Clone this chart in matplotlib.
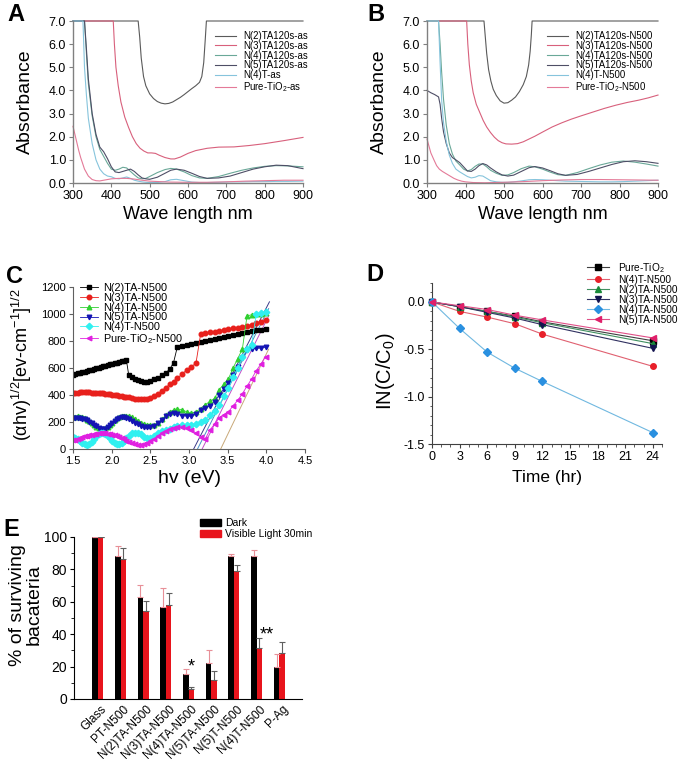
import matplotlib
matplotlib.use('Agg')
import matplotlib.pyplot as plt
from matplotlib.ticker import MultipleLocator, FormatStrFormatter
from matplotlib.patches import Patch
from matplotlib.transforms import ScaledTranslation

plt.rcParams['font.family'] = ['Liberation Sans', 'DejaVu Sans']
plt.rcParams['mathtext.fontset'] = 'custom'
plt.rcParams['mathtext.rm'] = 'Liberation Sans'
plt.rcParams['mathtext.it'] = 'Liberation Sans:italic'
plt.rcParams['mathtext.bf'] = 'Liberation Sans:bold'

# ---------------- Panel A data ----------------
A_N2_x = [300, 470, 474, 478, 484, 490, 500, 510, 520, 530, 540, 550, 560, 570, 580, 590, 600, 610, 620, 630, 636, 641, 645, 648, 900]
A_N2_y = [7.0, 7.0, 6.3, 5.4, 4.6, 4.2, 3.85, 3.65, 3.52, 3.45, 3.42, 3.44, 3.5, 3.6, 3.7, 3.82, 3.95, 4.08, 4.2, 4.35, 4.6, 5.2, 6.2, 7.0, 7.0]
A_N3_x = [300, 405, 408, 412, 418, 425, 435, 445, 455, 465, 475, 485, 495, 505, 515, 525, 540, 555, 565, 580, 600, 620, 650, 680, 720, 760, 800, 850, 900]
A_N3_y = [7.0, 7.0, 6.0, 5.0, 4.2, 3.5, 2.85, 2.4, 2.0, 1.7, 1.5, 1.38, 1.3, 1.3, 1.28, 1.2, 1.1, 1.04, 1.04, 1.12, 1.28, 1.4, 1.5, 1.55, 1.56, 1.62, 1.7, 1.83, 1.97]
A_LOW_x = [300, 326, 330, 335, 340, 350, 360, 370, 380, 390, 400, 410, 420, 430, 440, 450, 460, 470, 480, 490,
           500, 520, 540, 555, 570, 590, 610, 630, 650, 680, 710, 740, 770, 800, 830, 860, 900]
A_N4_y = [7.0, 7.0, 7.0, 5.6, 4.3, 2.9, 2.0, 1.45, 1.15, 0.85, 0.6, 0.55, 0.6, 0.68, 0.65, 0.5, 0.35, 0.22, 0.18, 0.2,
          0.28, 0.45, 0.58, 0.63, 0.6, 0.48, 0.32, 0.22, 0.2, 0.28, 0.42, 0.55, 0.65, 0.72, 0.75, 0.74, 0.7]
A_N5_y = [7.0, 7.0, 7.0, 5.8, 4.5, 3.0, 2.1, 1.55, 1.35, 1.05, 0.7, 0.48, 0.45, 0.5, 0.55, 0.6, 0.5, 0.35, 0.22, 0.18,
          0.16, 0.25, 0.42, 0.55, 0.6, 0.55, 0.42, 0.28, 0.2, 0.22, 0.3, 0.45, 0.6, 0.7, 0.77, 0.75, 0.62]
A_N4T_y = [7.0, 7.0, 5.0, 3.8, 2.8, 1.7, 1.0, 0.6, 0.4, 0.3, 0.27, 0.2, 0.18, 0.22, 0.26, 0.2, 0.12, 0.08, 0.05, 0.03,
           0.02, 0.02, 0.06, 0.14, 0.16, 0.1, 0.04, 0.02, 0.02, 0.03, 0.05, 0.05, 0.06, 0.06, 0.07, 0.07, 0.08]
A_PURE_x = [300, 305, 310, 315, 320, 330, 340, 350, 360, 370, 380, 400, 420, 440, 460, 480, 500, 550, 600, 650, 700, 750, 800, 850, 900]
A_PURE_y = [2.45, 2.1, 1.75, 1.4, 1.1, 0.6, 0.3, 0.15, 0.1, 0.09, 0.12, 0.18, 0.2, 0.2, 0.17, 0.12, 0.08, 0.04, 0.03, 0.03, 0.05, 0.08, 0.1, 0.12, 0.12]
A_LABELS = ['N(2)TA120s-as', 'N(3)TA120s-as', 'N(4)TA120s-as', 'N(5)TA120s-as', 'N(4)T-as', 'Pure-TiO$_2$-as']

# ---------------- Panel B data ----------------
B_N2_x = [300, 448, 451, 455, 460, 466, 472, 480, 490, 500, 510, 520, 530, 540, 550, 558, 564, 568, 571, 573, 900]
B_N2_y = [7.0, 7.0, 6.4, 5.6, 4.9, 4.4, 4.05, 3.78, 3.55, 3.45, 3.47, 3.58, 3.72, 3.95, 4.25, 4.6, 5.1, 5.7, 6.4, 7.0, 7.0]
B_N3_x = [300, 403, 406, 410, 415, 420, 428, 437, 446, 455, 465, 475, 485, 495, 505, 520, 535, 550, 565, 580,
          600, 625, 650, 675, 700, 730, 760, 790, 820, 850, 875, 900]
B_N3_y = [7.0, 7.0, 6.0, 5.1, 4.4, 3.9, 3.4, 3.05, 2.7, 2.42, 2.18, 1.98, 1.83, 1.74, 1.69, 1.68, 1.7, 1.78, 1.9, 2.02,
          2.2, 2.42, 2.6, 2.76, 2.9, 3.06, 3.22, 3.36, 3.48, 3.58, 3.68, 3.8]
B_LOW_x = [300, 310, 320, 330, 334, 338, 343, 350, 358, 366, 375, 385, 395, 405, 415, 425, 435, 445, 455, 465,
           480, 495, 510, 525, 545, 565, 580, 600, 620, 640, 660, 690, 720, 750, 780, 810, 840, 870, 900]
B_N4_y = [7.0, 7.0, 7.0, 7.0, 6.0, 4.8, 3.6, 2.5, 1.7, 1.25, 0.95, 0.78, 0.6, 0.52, 0.58, 0.72, 0.82, 0.82, 0.7, 0.55,
          0.42, 0.33, 0.35, 0.45, 0.62, 0.73, 0.7, 0.6, 0.47, 0.36, 0.33, 0.45, 0.62, 0.78, 0.9, 0.95, 0.9, 0.82, 0.73]
B_N5_y = [4.0, 3.9, 3.82, 3.72, 3.4, 2.8, 2.2, 1.7, 1.3, 1.1, 1.0, 0.88, 0.7, 0.52, 0.5, 0.6, 0.75, 0.84, 0.78, 0.65,
          0.48, 0.35, 0.3, 0.34, 0.5, 0.66, 0.71, 0.65, 0.53, 0.4, 0.33, 0.37, 0.5, 0.65, 0.8, 0.92, 0.96, 0.92, 0.85]
B_N4T_y = [7.0, 7.0, 7.0, 7.0, 5.2, 3.6, 2.6, 1.8, 1.2, 0.85, 0.6, 0.48, 0.38, 0.28, 0.22, 0.25, 0.32, 0.3, 0.2, 0.1,
           0.05, 0.03, 0.03, 0.05, 0.09, 0.14, 0.15, 0.14, 0.12, 0.1, 0.08, 0.07, 0.06, 0.05, 0.05, 0.06, 0.08, 0.1, 0.12]
B_PURE_x = [300, 305, 310, 318, 325, 332, 340, 350, 360, 370, 380, 390, 400, 420, 450, 500, 550, 600, 650, 700, 750, 800, 850, 900]
B_PURE_y = [1.9, 1.6, 1.3, 1.0, 0.75, 0.6, 0.5, 0.4, 0.3, 0.2, 0.13, 0.08, 0.05, 0.02, 0.01, 0.03, 0.06, 0.1, 0.13, 0.15, 0.15, 0.14, 0.13, 0.12]
B_LABELS = ['N(2)TA120s-N500', 'N(3)TA120s-N500', 'N(4)TA120s-N500', 'N(5)TA120s-N500', 'N(4)T-N500', 'Pure-TiO$_2$-N500']

SPEC_COLORS = ['#5a5a5a', '#d8607c', '#6aa898', '#4e4e66', '#86c4dc', '#e47a98']

# ---------------- Panel C data ----------------
E_C = [1.50, 1.53, 1.56, 1.59, 1.62, 1.65, 1.68, 1.71, 1.74, 1.77,
       1.80, 1.83, 1.86, 1.89, 1.92, 1.95, 1.98, 2.01, 2.04, 2.07,
       2.10, 2.13, 2.16, 2.19, 2.22, 2.26, 2.30, 2.34, 2.38, 2.42,
       2.46, 2.50, 2.55, 2.60, 2.65, 2.70, 2.75, 2.80, 2.85, 2.91,
       2.97, 3.03, 3.09, 3.15, 3.21, 3.27, 3.33, 3.39, 3.45, 3.51,
       3.57, 3.63, 3.69, 3.75, 3.81, 3.87, 3.93, 3.99]
C_N2 = [550, 555, 560, 564, 569, 574, 579, 583, 588, 593,
        598, 602, 607, 612, 617, 621, 626, 631, 636, 640,
        645, 650, 655, 660, 550, 532, 518, 508, 502, 499,
        500, 505, 515, 528, 545, 565, 590, 640, 758, 765,
        772, 779, 786, 793, 800, 807, 814, 822, 829, 836,
        843, 850, 857, 864, 871, 878, 885, 892]
C_N3 = [418, 418, 418, 419, 419, 419, 419, 419, 418, 418,
        417, 416, 415, 413, 411, 409, 406, 403, 400, 397,
        394, 391, 388, 385, 382, 378, 374, 371, 370, 371,
        374, 380, 392, 410, 432, 455, 478, 500, 525, 555,
        585, 610, 635, 850, 858, 864, 870, 876, 882, 888,
        894, 900, 906, 913, 920, 930, 942, 955]
C_N4 = [235, 240, 242, 240, 235, 228, 218, 206, 192, 178,
        165, 155, 150, 150, 155, 165, 180, 196, 212, 226,
        237, 244, 247, 247, 244, 236, 224, 210, 196, 185,
        178, 176, 180, 195, 220, 250, 275, 290, 296, 292,
        275, 265, 275, 300, 328, 352, 375, 440, 480, 520,
        600, 670, 740, 985, 995, 1000, 1003, 1005]
C_N5 = [230, 230, 229, 227, 224, 219, 212, 203, 192, 180,
        168, 157, 150, 147, 150, 160, 175, 192, 208, 222,
        232, 236, 235, 230, 222, 210, 196, 183, 172, 164,
        160, 162, 172, 192, 218, 242, 260, 265, 258, 248,
        243, 245, 260, 290, 305, 320, 350, 400, 445, 490,
        545, 610, 675, 730, 742, 745, 748, 752]
C_N4T = [90, 85, 72, 58, 45, 36, 33, 40, 55, 75,
         95, 110, 118, 118, 110, 95, 78, 60, 45, 36,
         35, 45, 62, 82, 100, 115, 122, 118, 108, 92,
         80, 85, 100, 118, 132, 140, 148, 160, 172, 180,
         180, 178, 185, 200, 215, 250, 280, 325, 390, 450,
         530, 600, 680, 740, 770, 1003, 1008, 1012]
C_PURE = [65, 70, 76, 82, 88, 93, 98, 103, 107, 110,
          113, 115, 116, 116, 115, 113, 110, 106, 101, 95,
          88, 80, 71, 62, 53, 43, 35, 30, 30, 35,
          45, 58, 75, 95, 115, 132, 146, 155, 160, 160,
          155, 140, 118, 90, 75, 140, 185, 230, 255, 275,
          320, 360, 410, 465, 520, 580, 630, 685]
C_LABELS = ['N(2)TA-N500', 'N(3)TA-N500', 'N(4)TA-N500', 'N(5)TA-N500', 'N(4)T-N500', 'Pure-TiO$_2$-N500']
C_COLORS = ['#000000', '#e8201c', '#30d030', '#1414b4', '#30f0f0', '#e020e0']
C_MARKERS = ['s', 'o', '^', 'v', 'D', '<']
FIT_X0 = [3.06, 3.11, 3.17, 3.41]
FIT_X1 = [4.04, 4.03, 4.03, 4.03]
FIT_Y1 = [1090, 1040, 985, 740]
FIT_COLORS = ['#3a3a8a', '#4a90c8', '#c050c8', '#c8a878']

# ---------------- Panel D data ----------------
D_T = [0, 3, 6, 9, 12, 24]
D_PURE = [0, -0.05, -0.10, -0.15, -0.21, -0.41]
D_N4T = [0, -0.10, -0.16, -0.23, -0.34, -0.68]
D_N2TA = [0, -0.05, -0.10, -0.16, -0.22, -0.44]
D_N3TA = [0, -0.05, -0.11, -0.17, -0.24, -0.49]
D_N4TA = [0, -0.28, -0.53, -0.70, -0.84, -1.38]
D_N5TA = [0, -0.04, -0.08, -0.14, -0.19, -0.38]
D_LABELS = ['Pure-TiO$_2$', 'N(4)T-N500', 'N(2)TA-N500', 'N(3)TA-N500', 'N(4)TA-N500', 'N(5)TA-N500']
D_MCOLORS = ['#000000', '#e8202a', '#1a8a3a', '#141450', '#2a90e0', '#e0206a']
D_LCOLORS = ['#404040', '#e06070', '#409060', '#303060', '#70b8e0', '#e05088']
D_MARKERS = ['s', 'o', '^', 'v', 'D', '<']

# ---------------- Panel E data ----------------
E_CATS = ['Glass', 'PT-N500', 'N(2)TA-N500', 'N(3)TA-N500', 'N(4)TA-N500', 'N(5)TA-N500', 'N(5)T-N500', 'N(4)T-N500', 'P-Ag']
E_DARK = [100, 88, 63, 57, 15.5, 22.5, 88, 88.5, 20]
E_DARK_ERR = [0, 6.5, 7.5, 11.5, 3, 7.5, 1.5, 3.5, 7.5]
E_LIGHT = [100, 86.5, 54.5, 58, 6, 12, 79, 31.5, 28.5]
E_LIGHT_ERR = [0, 6.5, 6, 7.5, 1.5, 5, 3.5, 6, 6.5]
E_STARS = [(4, '*', 17), (7, '**', 37)]

W, H = 685, 761
fig = plt.figure(figsize=(W / 100, H / 100), dpi=100)


def rect(l, t, r, b):
    return [l / W, 1 - b / H, (r - l) / W, (b - t) / H]


def fx(px):
    return px / W


def fy(py):
    return 1 - py / H


# ---------- spectra panels ----------
def spectra(ax, series, labels, leg_x):
    for (x, y), c, lab in zip(series, SPEC_COLORS, labels):
        ax.plot(x, y, color=c, lw=0.8, label=lab, clip_on=False)
    ax.set_xlim(300, 900)
    ax.set_ylim(0, 7)
    ax.xaxis.set_major_locator(MultipleLocator(100))
    ax.yaxis.set_major_locator(MultipleLocator(1))
    ax.yaxis.set_major_formatter(FormatStrFormatter('%.1f'))
    for s in ['top', 'right']:
        ax.spines[s].set_visible(False)
    for s in ['left', 'bottom']:
        ax.spines[s].set_color('#808080')
        ax.spines[s].set_linewidth(1.0)
    ax.tick_params(direction='out', length=3, width=0.8, color='#808080', labelsize=9, pad=2)
    ax.set_ylabel('Absorbance', fontsize=14)
    ax.yaxis.set_label_coords(-0.17, 0.5)
    ax.set_xlabel('Wave length nm', fontsize=13)
    ax.xaxis.set_label_coords(0.5, -0.14)
    ax.legend(loc='upper left', bbox_to_anchor=(fx(leg_x), fy(31)), bbox_transform=fig.transFigure,
              frameon=False, fontsize=6.9, handlelength=2.2, handletextpad=0.7, labelspacing=-0.02,
              borderpad=0, borderaxespad=0)


axA = fig.add_axes(rect(73, 21, 303, 183))
spectra(axA, [(A_N2_x, A_N2_y), (A_N3_x, A_N3_y), (A_LOW_x, A_N4_y), (A_LOW_x, A_N5_y),
              (A_LOW_x, A_N4T_y), (A_PURE_x, A_PURE_y)], A_LABELS, 215)

axB = fig.add_axes(rect(427, 21, 658, 183))
spectra(axB, [(B_N2_x, B_N2_y), (B_N3_x, B_N3_y), (B_LOW_x, B_N4_y), (B_LOW_x, B_N5_y),
              (B_LOW_x, B_N4T_y), (B_PURE_x, B_PURE_y)], B_LABELS, 547)

# ---------- panel C ----------
axC = fig.add_axes(rect(73, 287, 305, 449))
for x0, x1, y1, c in zip(FIT_X0, FIT_X1, FIT_Y1, FIT_COLORS):
    axC.plot([x0, x1], [0, y1], color=c, lw=0.7)
for y, lab, c, m in zip([C_N2, C_N3, C_N4, C_N5, C_N4T, C_PURE], C_LABELS, C_COLORS, C_MARKERS):
    axC.plot(E_C, y, color=c, lw=0.6, marker=m, ms=3.3, mec=c, mfc=c, label=lab)
axC.set_xlim(1.5, 4.5)
axC.set_ylim(0, 1200)
axC.xaxis.set_major_locator(MultipleLocator(0.5))
axC.xaxis.set_major_formatter(FormatStrFormatter('%.1f'))
axC.yaxis.set_major_locator(MultipleLocator(200))
for s in ['top', 'right']:
    axC.spines[s].set_visible(False)
axC.spines['left'].set_color('#606060')
axC.spines['bottom'].set_color('#606060')
axC.tick_params(direction='out', length=3, width=0.8, color='#606060', labelsize=8, pad=2)
axC.set_ylabel('(αhv)$^{\\mathregular{1/2}}$[ev-cm$^{\\mathregular{-1}}$]$^{\\mathregular{1/2}}$', fontsize=13)
axC.yaxis.set_label_coords(-0.17, 0.52)
axC.set_xlabel('hv (eV)', fontsize=14)
axC.xaxis.set_label_coords(0.5, -0.13)
axC.legend(loc='upper left', bbox_to_anchor=(fx(80), fy(283)), bbox_transform=fig.transFigure,
           frameon=False, fontsize=7.8, handlelength=1.7, handletextpad=0.4, labelspacing=-0.02,
           borderpad=0, borderaxespad=0, markerscale=1.0)

# ---------- panel D ----------
axD = fig.add_axes(rect(432, 283, 662, 444))
for y, lab, mc, lc, m in zip([D_PURE, D_N4T, D_N2TA, D_N3TA, D_N4TA, D_N5TA], D_LABELS, D_MCOLORS, D_LCOLORS, D_MARKERS):
    axD.plot(D_T, y, color=lc, lw=0.8, marker=m, ms=4, mfc=mc, mec=mc, label=lab, clip_on=False, zorder=3)
axD.set_xlim(0, 25)
axD.set_ylim(-1.5, 0.2)
axD.xaxis.set_major_locator(MultipleLocator(3))
axD.xaxis.set_minor_locator(MultipleLocator(1))
axD.yaxis.set_major_locator(MultipleLocator(0.5))
axD.yaxis.set_minor_locator(MultipleLocator(0.1))
axD.yaxis.set_major_formatter(FormatStrFormatter('%.1f'))
for s in ['top', 'right']:
    axD.spines[s].set_visible(False)
axD.spines['left'].set_color('#404040')
axD.spines['bottom'].set_color('#404040')
axD.tick_params(which='major', direction='out', length=3, width=0.8, color='#404040', labelsize=9, pad=2)
axD.tick_params(which='minor', direction='out', length=1.8, width=0.6, color='#404040')
axD.set_ylabel('IN(C/C$_{\\mathregular{0}}$)', fontsize=14.5)
axD.yaxis.set_label_coords(-0.152, 0.45)
axD.set_xlabel('Time (hr)', fontsize=12.5)
axD.xaxis.set_label_coords(0.5, -0.16)
axD.legend(loc='upper left', bbox_to_anchor=(fx(587), fy(261)), bbox_transform=fig.transFigure,
           frameon=False, fontsize=7.3, handlelength=2.2, handletextpad=0.9, labelspacing=0.0,
           borderpad=0, borderaxespad=0)

# ---------- panel E ----------
axE = fig.add_axes(rect(74, 537, 302, 699))
xs = list(range(len(E_CATS)))
bw = 0.24
xd = [x - bw / 2 for x in xs]
xl = [x + bw / 2 for x in xs]
axE.bar(xd, E_DARK, width=bw, color='#000000', label='Dark', zorder=2)
axE.bar(xl, E_LIGHT, width=bw, color='#e8141c', label='Visible Light 30min', zorder=2)
axE.errorbar(xd, E_DARK, yerr=[[0] * len(E_DARK), E_DARK_ERR], fmt='none', ecolor='#e89098',
             elinewidth=0.8, capsize=2, capthick=0.8, zorder=3)
axE.errorbar(xl, E_LIGHT, yerr=[[0] * len(E_LIGHT), E_LIGHT_ERR], fmt='none', ecolor='#606060',
             elinewidth=0.8, capsize=2, capthick=0.8, zorder=3)
for gx, s, yb in E_STARS:
    axE.text(gx + 0.14 + (0.31 if len(s) > 1 else 0), yb, s, ha='center', va='baseline', fontsize=13)
axE.set_xlim(-1.05, 9.0)
axE.set_ylim(0, 100)
axE.set_xticks(xs)
axE.set_xticklabels(E_CATS, rotation=45, ha='right', va='center', rotation_mode='anchor', fontsize=8.6)
axE.tick_params(axis='x', length=0, pad=6)
off = ScaledTranslation(0.07, 0.0, fig.dpi_scale_trans)
for lab in axE.get_xticklabels():
    lab.set_transform(lab.get_transform() + off)
axE.yaxis.set_major_locator(MultipleLocator(20))
axE.yaxis.set_minor_locator(MultipleLocator(10))
axE.tick_params(axis='y', which='major', direction='out', length=3, width=0.8, labelsize=10, pad=2)
axE.tick_params(axis='y', which='minor', direction='out', length=2, width=0.6)
for s in ['top', 'right']:
    axE.spines[s].set_visible(False)
axE.set_ylabel('% of surviving\nbacateria', fontsize=14, linespacing=1.0)
axE.yaxis.set_label_coords(-0.136, 0.58)
axE.legend(handles=[Patch(color='#000000', label='Dark'), Patch(color='#e8141c', label='Visible Light 30min')],
           loc='upper left', bbox_to_anchor=(fx(200), fy(518)), bbox_transform=fig.transFigure,
           frameon=False, fontsize=7.5, handlelength=2.0, handleheight=0.7, handletextpad=0.4,
           labelspacing=0.1, borderpad=0, borderaxespad=0)

# ---------- panel letters ----------
for lx, ly, letter in [(7, 3, 'A'), (367, 3, 'B'), (6, 265, 'C'), (366, 263, 'D'), (3, 518, 'E')]:
    fig.text(fx(lx), fy(ly), letter, fontsize=17, fontweight='bold', ha='left', va='top')

fig.savefig('out.png', dpi=100)
